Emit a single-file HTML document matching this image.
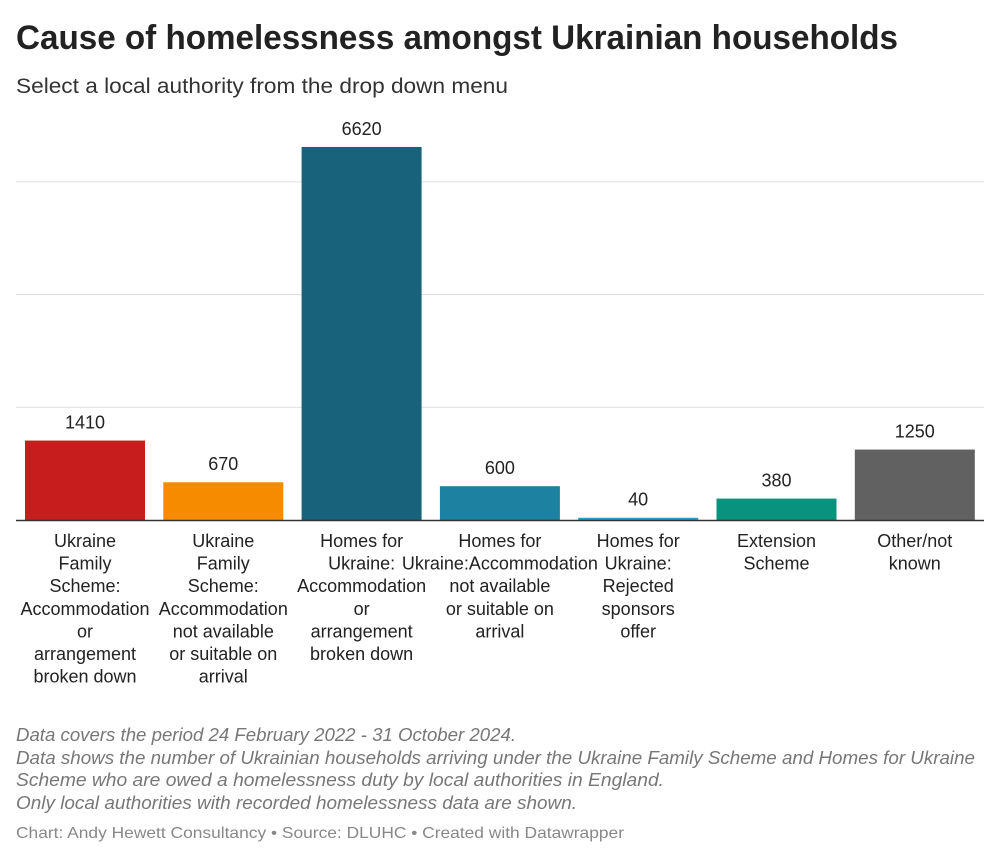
<!DOCTYPE html>
<html><head><meta charset="utf-8"><style>
body{margin:0;background:#fff;width:1000px;height:860px;overflow:hidden;font-family:"Liberation Sans",Roboto,sans-serif}
</style></head><body>
<svg width="1000" height="860" xmlns="http://www.w3.org/2000/svg" font-family="Liberation Sans, sans-serif">
<text x="16" y="49" font-size="34" font-weight="bold" fill="#222" textLength="882" lengthAdjust="spacingAndGlyphs">Cause of homelessness amongst Ukrainian households</text>
<text x="16" y="93" font-size="21" fill="#333" textLength="492" lengthAdjust="spacingAndGlyphs">Select a local authority from the drop down menu</text>
<g id="grid"></g>
<g id="bars"></g>
<g id="labels"></g>
<line x1="16" x2="984" y1="520.5" y2="520.5" stroke="#333" stroke-width="1.5"/>
<g font-size="18" font-style="italic" fill="#777">
<text x="16" y="741" textLength="500" lengthAdjust="spacingAndGlyphs">Data covers the period 24 February 2022 - 31 October 2024.</text>
<text x="16" y="764" textLength="959" lengthAdjust="spacingAndGlyphs">Data shows the number of Ukrainian households arriving under the Ukraine Family Scheme and Homes for Ukraine</text>
<text x="16" y="786" textLength="648" lengthAdjust="spacingAndGlyphs">Scheme who are owed a homelessness duty by local authorities in England.</text>
<text x="16" y="809" textLength="561" lengthAdjust="spacingAndGlyphs">Only local authorities with recorded homelessness data are shown.</text>
</g>
<text x="16" y="838" font-size="16" fill="#888" textLength="608" lengthAdjust="spacingAndGlyphs">Chart: Andy Hewett Consultancy • Source: DLUHC • Created with Datawrapper</text>
</svg>
<script>
const categories=[
["Ukraine","Family","Scheme:","Accommodation","or","arrangement","broken down"],
["Ukraine","Family","Scheme:","Accommodation","not available","or suitable on","arrival"],
["Homes for","Ukraine:","Accommodation","or","arrangement","broken down"],
["Homes for","Ukraine:Accommodation","not available","or suitable on","arrival"],
["Homes for","Ukraine:","Rejected","sponsors","offer"],
["Extension","Scheme"],
["Other/not","known"]];
const values=[1410,670,6620,600,40,380,1250];
const colors=["#c71e1d","#f78b00","#18627b","#1d81a2","#2a9bc7","#09937e","#616161"];
const gridTicks=[2000,4000,6000];
const NS="http://www.w3.org/2000/svg";
const base=520,k=373/6620,x0=25,step=138.3,bw=120;
const y=v=>base-v*k;
function mk(t,a,p){const e=document.createElementNS(NS,t);for(const n in a)e.setAttribute(n,a[n]);p.appendChild(e);return e;}
const g=document.getElementById('grid'),b=document.getElementById('bars'),l=document.getElementById('labels');
gridTicks.forEach(t=>{const e=mk('line',{x1:16,x2:984,y1:y(t),y2:y(t),stroke:'#ddd','stroke-width':1},g);

});
values.forEach((v,i)=>{const x=x0+i*step;
const r=mk('rect',{x:x,y:y(v),width:bw,height:v*k,fill:colors[i]},b);


const t=mk('text',{x:x+bw/2,y:y(v)-12,'text-anchor':'middle','font-size':18,fill:'#222'},l);t.textContent=v;


categories[i].forEach((s,j)=>{const c=mk('text',{x:x+bw/2,y:547+j*22.6,'text-anchor':'middle','font-size':18,fill:'#222'},l);c.textContent=s;

});
});
</script>
</body></html>
